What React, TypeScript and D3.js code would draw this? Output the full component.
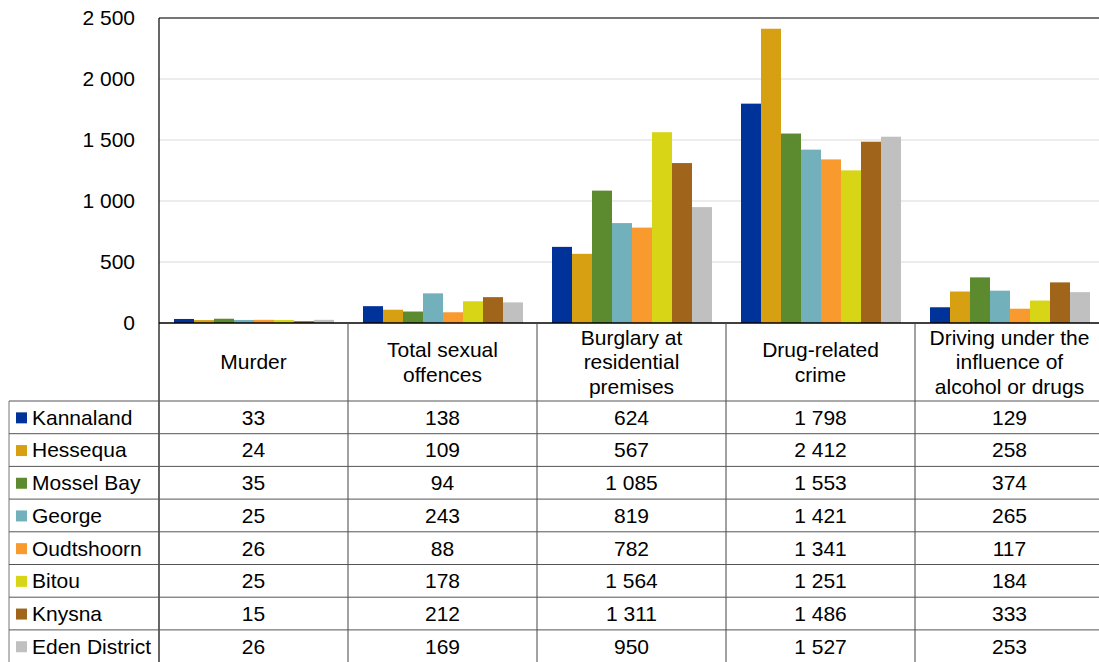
import React from "react";
import * as d3 from "d3";

const categories = [
  ["Murder"],
  ["Total sexual", "offences"],
  ["Burglary at", "residential", "premises"],
  ["Drug-related", "crime"],
  ["Driving under the", "influence of", "alcohol or drugs"],
];
const seriesNames = ["Kannaland", "Hessequa", "Mossel Bay", "George", "Oudtshoorn", "Bitou", "Knysna", "Eden District"];
const seriesColors = ["#003399", "#d7a013", "#5c8a2e", "#72b1bc", "#f89a2e", "#d8d416", "#a0651a", "#c0c0c0"];
const kannaland = [33, 138, 624, 1798, 129];
const hessequa = [24, 109, 567, 2412, 258];
const mosselBay = [35, 94, 1085, 1553, 374];
const george = [25, 243, 819, 1421, 265];
const oudtshoorn = [26, 88, 782, 1341, 117];
const bitou = [25, 178, 1564, 1251, 184];
const knysna = [15, 212, 1311, 1486, 333];
const eden = [26, 169, 950, 1527, 253];
const seriesValues = [kannaland, hessequa, mosselBay, george, oudtshoorn, bitou, knysna, eden];
const yTicks = [0, 500, 1000, 1500, 2000, 2500];

const fmt = (v: number) => d3.format(",")(v).replace(/,/g, " ");

export default function App() {
  const W = 1099, H = 662;
  const left = 159, colW = 189, top = 18, base = 323;
  const headerBottom = 401, rowH = 32.7, legLeft = 9;
  const fs = 21;
  const font = "Liberation Sans, Arial, sans-serif";
  const x0 = d3.scaleBand<number>().domain(d3.range(categories.length)).range([left, left + colW * categories.length]).paddingInner(0).paddingOuter(0);
  const x1 = d3.scaleBand<number>().domain(d3.range(seriesNames.length)).range([15, colW - 14]).padding(0);
  const y = d3.scaleLinear().domain([0, 2500]).range([base, top]);
  const right = left + colW * categories.length;
  return (
    <svg width={W} height={H} style={{ position: "absolute", left: 0, top: 0, background: "#fff" }} fontFamily={font}>
      {yTicks.map((t) => (
        <g key={t}>
          {t > 0 && <line x1={left} x2={right} y1={y(t)} y2={y(t)} stroke="#d9d9d9" strokeWidth={1} />}
          <text x={135} y={y(t)} dy="0.35em" textAnchor="end" fontSize={fs} fill="#000">{fmt(t)}</text>
        </g>
      ))}
      {seriesValues.map((vals, si) =>
        vals.map((v, ci) => (
          <rect key={`${si}-${ci}`} x={(x0(ci) as number) + (x1(si) as number)} width={x1.bandwidth()} y={y(v)} height={base - y(v)} fill={seriesColors[si]} />
        ))
      )}
      <line x1={left} x2={right} y1={top} y2={top} stroke="#000" strokeWidth={1.2} />
      <line x1={left} x2={left} y1={top} y2={H} stroke="#000" strokeWidth={1.2} />
      <line x1={left} x2={right} y1={base} y2={base} stroke="#000" strokeWidth={1.5} />
      {d3.range(1, categories.length + 1).map((i) => (
        <line key={i} x1={left + colW * i} x2={left + colW * i} y1={base} y2={H} stroke="#444" strokeWidth={1} />
      ))}
      <line x1={legLeft} x2={legLeft} y1={headerBottom} y2={H} stroke="#777" strokeWidth={1} />
      {d3.range(seriesNames.length).map((r) => (
        <line key={r} x1={legLeft} x2={right} y1={headerBottom + rowH * r} y2={headerBottom + rowH * r} stroke="#555" strokeWidth={1} />
      ))}
      {categories.map((lines, ci) => {
        const cx = (x0(ci) as number) + colW / 2;
        const cy = (base + headerBottom) / 2;
        const lh = 24.5;
        return (
          <text key={ci} x={cx} textAnchor="middle" fontSize={fs} fill="#000">
            {lines.map((l, li) => (
              <tspan key={li} x={cx} y={cy + (li - (lines.length - 1) / 2) * lh} dy="0.35em">{l}</tspan>
            ))}
          </text>
        );
      })}
      {seriesNames.map((name, si) => {
        const cy = headerBottom + rowH * si + rowH / 2;
        return (
          <g key={name}>
            <rect x={16} y={cy - 5} width={11} height={11} fill={seriesColors[si]} />
            <text x={32} y={cy} dy="0.35em" fontSize={fs} fill="#000">{name}</text>
            {seriesValues[si].map((v, ci) => (
              <text key={ci} x={(x0(ci) as number) + colW / 2} y={cy} dy="0.35em" textAnchor="middle" fontSize={fs} fill="#000">{fmt(v)}</text>
            ))}
          </g>
        );
      })}
    </svg>
  );
}
